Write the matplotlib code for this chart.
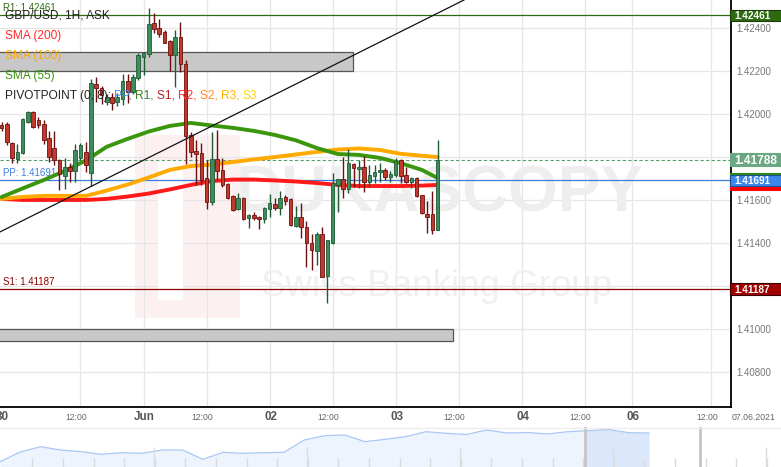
import numpy as np
import matplotlib.pyplot as plt
from matplotlib import font_manager
from matplotlib.patches import Rectangle
from matplotlib.transforms import blended_transform_factory

plt.rcParams['font.family'] = ['Liberation Sans', 'DejaVu Sans']

# GBP/USD 1H ask candles, first one is 30 May 21:00
opens = [1.41950, 1.41954, 1.41866, 1.41791, 1.41819, 1.41963, 1.42010, 1.41973, 1.41954, 1.41889,
         1.41842, 1.41786, 1.41712, 1.41754, 1.41735, 1.41796, 1.41824, 1.41726, 1.42141, 1.42122,
         1.42057, 1.42080, 1.42057, 1.42071, 1.42155, 1.42103, 1.42169, 1.42267, 1.42281, 1.42425,
         1.42402, 1.42383, 1.42341, 1.42276, 1.42360, 1.42234, 1.41903, 1.41828, 1.41819, 1.41702,
         1.41590, 1.41791, 1.41740, 1.41674, 1.41619, 1.41558, 1.41609, 1.41516, 1.41530, 1.41521,
         1.41511, 1.41558, 1.41581, 1.41563, 1.41614, 1.41605, 1.41479, 1.41521, 1.41474, 1.41399,
         1.41362, 1.41441, 1.41245, 1.41399, 1.41670, 1.41698, 1.41651, 1.41768, 1.41744, 1.41754,
         1.41684, 1.41712, 1.41730, 1.41740, 1.41707, 1.41716, 1.41786, 1.41716, 1.41684, 1.41702,
         1.41623, 1.41535, 1.41535, 1.41460]
highs = [1.41963, 1.41963, 1.41870, 1.41861, 1.41982, 1.42015, 1.42015, 1.41987, 1.41973, 1.41922,
         1.41922, 1.41791, 1.41796, 1.41772, 1.41861, 1.41866, 1.41870, 1.42164, 1.42173, 1.42131,
         1.42094, 1.42099, 1.42099, 1.42187, 1.42187, 1.42187, 1.42285, 1.42290, 1.42495, 1.42472,
         1.42444, 1.42393, 1.42346, 1.42393, 1.42430, 1.42253, 1.41917, 1.41880, 1.41866, 1.41786,
         1.41917, 1.41926, 1.41796, 1.41679, 1.41623, 1.41632, 1.41614, 1.41535, 1.41544, 1.41525,
         1.41567, 1.41628, 1.41609, 1.41642, 1.41623, 1.41609, 1.41572, 1.41586, 1.41502, 1.41441,
         1.41451, 1.41474, 1.41413, 1.41726, 1.41698, 1.41800, 1.41838, 1.41772, 1.41786, 1.41805,
         1.41763, 1.41763, 1.41772, 1.41749, 1.41735, 1.41796, 1.41791, 1.41754, 1.41707, 1.41707,
         1.41623, 1.41595, 1.41642, 1.41880]
lows = [1.41922, 1.41856, 1.41772, 1.41772, 1.41814, 1.41959, 1.41936, 1.41936, 1.41861, 1.41777,
        1.41763, 1.41646, 1.41651, 1.41684, 1.41684, 1.41786, 1.41730, 1.41665, 1.42057, 1.42047,
        1.42043, 1.42019, 1.42038, 1.42043, 1.42052, 1.42094, 1.42159, 1.42183, 1.42267, 1.42379,
        1.42360, 1.42332, 1.42201, 1.42127, 1.42197, 1.41768, 1.41800, 1.41670, 1.41670, 1.41558,
        1.41577, 1.41693, 1.41660, 1.41605, 1.41549, 1.41553, 1.41507, 1.41469, 1.41507, 1.41465,
        1.41493, 1.41521, 1.41553, 1.41530, 1.41577, 1.41479, 1.41474, 1.41423, 1.41288, 1.41273,
        1.41297, 1.41241, 1.41120, 1.41395, 1.41544, 1.41609, 1.41632, 1.41660, 1.41656, 1.41637,
        1.41660, 1.41679, 1.41684, 1.41693, 1.41684, 1.41707, 1.41679, 1.41679, 1.41656, 1.41614,
        1.41535, 1.41446, 1.41441, 1.41460]
closes = [1.41936, 1.41870, 1.41796, 1.41824, 1.41977, 1.42010, 1.41940, 1.41950, 1.41880, 1.41800,
          1.41786, 1.41721, 1.41754, 1.41735, 1.41833, 1.41856, 1.41763, 1.42145, 1.42122, 1.42089,
          1.42080, 1.42052, 1.42080, 1.42155, 1.42103, 1.42173, 1.42276, 1.42285, 1.42421, 1.42397,
          1.42374, 1.42332, 1.42276, 1.42360, 1.42234, 1.41898, 1.41824, 1.41814, 1.41693, 1.41590,
          1.41791, 1.41735, 1.41670, 1.41609, 1.41553, 1.41609, 1.41511, 1.41530, 1.41516, 1.41511,
          1.41563, 1.41586, 1.41563, 1.41609, 1.41595, 1.41483, 1.41521, 1.41474, 1.41399, 1.41367,
          1.41441, 1.41241, 1.41413, 1.41679, 1.41698, 1.41651, 1.41772, 1.41749, 1.41754, 1.41684,
          1.41716, 1.41730, 1.41740, 1.41707, 1.41721, 1.41782, 1.41712, 1.41684, 1.41702, 1.41619,
          1.41539, 1.41521, 1.41460, 1.41788]

# moving averages read every 4 bars
sma_idx = [0, 4, 8, 12, 16, 20, 24, 28, 32, 36, 40, 44, 48, 52, 56, 60, 64, 68, 72, 76, 80, 83]
sma55 = [1.41614, 1.41654, 1.41693, 1.41735, 1.41784, 1.41848, 1.41885, 1.41919, 1.41945, 1.41959, 1.41947,
         1.41936, 1.41922, 1.41903, 1.41878, 1.41842, 1.41814, 1.41810, 1.41796, 1.41771, 1.41740, 1.41702]
sma100 = [1.41605, 1.41614, 1.41619, 1.41619, 1.41619, 1.41644, 1.41672, 1.41705, 1.41740, 1.41758, 1.41765,
          1.41777, 1.41789, 1.41800, 1.41812, 1.41824, 1.41835, 1.41840, 1.41833, 1.41815, 1.41806, 1.41800]
sma200 = [1.41605, 1.41600, 1.41600, 1.41600, 1.41600, 1.41605, 1.41616, 1.41630, 1.41649, 1.41670, 1.41688,
          1.41695, 1.41695, 1.41691, 1.41686, 1.41679, 1.41670, 1.41665, 1.41665, 1.41665, 1.41667, 1.41670]

pivot_r1 = 1.42461
pivot_pp = 1.41691
pivot_s1 = 1.41187
last_price = 1.41788

zone_top = (1.42201, 1.42290, 66.9)      # low, high, end bar
zone_bottom = (1.40942, 1.40998, 85.9)
trend_a = (0, 1.41455)
trend_b = (80, 1.42434)

price_ticks = [1.408, 1.410, 1.412, 1.414, 1.416, 1.418, 1.420, 1.422, 1.424]
hidden_ticks = [1.412, 1.418]   # covered by the S1 and last price boxes
date_ticks = [15, 27, 39, 51, 63, 75, 87, 99, 111, 120, 135]
date_labels = ['12:00', 'Jun', '12:00', '02', '12:00', '03', '12:00', '04', '12:00', '06', '12:00']

# navigator (overview) line, sampled evenly
nav_level = [5.3, 15, 20.3, 17, 15.3, 12.7, 14.3, 13.7, 17, 17, 7.7, 14.7, 13.7, 14.3, 14.7, 27, 31.3,
             32, 25.3, 27.7, 30.3, 35.3, 33.7, 32.5, 37, 34, 34.5, 33, 35.3, 36.3, 37.5, 34.3, 34]

W, H = 781, 467
fig = plt.figure(figsize=(W / 100, H / 100), dpi=100)
ax = fig.add_axes([0, 60 / H, 731 / W, 407 / H])
ax.set_xlim(-0.324, 138.84)
ax.set_ylim(1.40635, 1.42532)
ppx = (1.42532 - 1.40635) / 407

for s in ['left', 'top']:
    ax.spines[s].set_visible(False)
for s in ['right', 'bottom']:
    ax.spines[s].set_color('black')
    ax.spines[s].set_linewidth(1.3)

ax.yaxis.tick_right()
ax.set_yticks(price_ticks)
ax.set_yticklabels(['' if p in hidden_ticks else f'{p:.5f}' for p in price_ticks])
ax.tick_params(axis='y', length=0, pad=4, labelsize=7, labelcolor='#777777')
ax.set_xticks(date_ticks)
ax.set_xticklabels([])
ax.tick_params(axis='x', length=0)
ax.grid(True, color='#e6e6e6', lw=0.9, zorder=0)
ax.set_axisbelow(True)

# watermark
names = {f.name for f in font_manager.fontManager.ttflist}
if 'Liberation Sans Narrow' in names:
    wm_font, wm_k = 'Liberation Sans Narrow', 1.2
else:
    wm_font, wm_k = 'Liberation Sans', 1.0
ax.add_patch(Rectangle((135 / 731, 1 - 318 / 407), 105 / 731, 183 / 407, transform=ax.transAxes,
                       facecolor='#fdf0f0', edgecolor='none', zorder=0.5))
ax.add_patch(Rectangle((158 / 731, 1 - 300 / 407), 25 / 731, 140 / 407, transform=ax.transAxes,
                       facecolor='white', edgecolor='none', zorder=0.6))
ax.text(440 / 731, 1 - 195 / 407, 'DUKASCOPY', transform=ax.transAxes, ha='center', va='center',
        fontsize=46 * wm_k, fontweight='bold', family=wm_font, color='#eeeeee', zorder=0.6)
ax.text(437 / 731, 1 - 287 / 407, 'Swiss Banking Group', transform=ax.transAxes, ha='center', va='center',
        fontsize=26.5 * wm_k, family=wm_font, color='#f0f0f0', zorder=0.6)

# zones
for lo, hi, end in [zone_top, zone_bottom]:
    ax.add_patch(Rectangle((-2, lo), end + 2, hi - lo, facecolor='#c8c8c8', edgecolor='#555555',
                           lw=0.9, zorder=1))

# pivot levels
ax.axhline(pivot_r1, color='#2d6a10', lw=0.9, zorder=2)
ax.axhline(pivot_pp, color='#3b7fdc', lw=0.9, zorder=2)
ax.axhline(pivot_s1, color='#8b0000', lw=0.9, zorder=2)
ax.axhline(last_price, color='#5a9e6f', lw=0.8, ls=(0, (3, 2)), zorder=2)
for lev, name, col in [(pivot_r1, 'R1', '#2d6a10'), (pivot_pp, 'PP', '#3b7fdc'), (pivot_s1, 'S1', '#8b0000')]:
    ax.annotate(f'{name}: {lev:.5f}', xy=(0, lev), xycoords=('axes fraction', 'data'), xytext=(3, 2),
                textcoords='offset pixels', fontsize=7, color=col, va='bottom', zorder=3)

# moving averages
ax.plot(sma_idx, sma200, color='#ff1a1a', lw=2.8, solid_capstyle='round', zorder=4)
ax.plot(sma_idx, sma100, color='#ffaa00', lw=2.8, solid_capstyle='round', zorder=4)
ax.plot(sma_idx, sma55, color='#3a960c', lw=2.8, solid_capstyle='round', zorder=4)

# candles
o = np.array(opens)
h = np.array(highs)
l = np.array(lows)
c = np.array(closes)
x = np.arange(len(o))
up = c >= o
for mask, fill, edge in [(up, '#3d8c5c', '#1f5a35'), (~up, '#c0392b', '#6b1010')]:
    ax.vlines(x[mask], l[mask], h[mask], color=edge, lw=1, zorder=5)
    body = np.maximum(np.abs(c[mask] - o[mask]), ppx)
    ax.bar(x[mask], body, bottom=np.minimum(o[mask], c[mask]), width=0.68, color=fill,
           edgecolor=edge, lw=0.6, zorder=6)

# trend line
ax.axline(trend_a, trend_b, color='#111111', lw=0.9, zorder=7)

# legend text
leg = [('GBP/USD, 1H, ASK', '#222222', 16), ('SMA (200)', '#ff2a2a', 36),
       ('SMA (100)', '#ffa500', 56), ('SMA (55)', '#3a960c', 76)]
for txt, col, yy in leg:
    ax.annotate(txt, xy=(0, 1), xycoords='axes fraction', xytext=(5, -yy), textcoords='offset pixels',
                fontsize=8.6, color=col, va='center', ha='left', zorder=10)
pieces = [('PIVOTPOINT (0, 8): ', '#222222'), ('PP, ', '#4a8ef0'), ('R1, ', '#3b7d23'),
          ('S1, ', '#b22222'), ('R2, ', '#ff3030'), ('S2, ', '#ff8a2a'), ('R3, ', '#ffb300'),
          ('S3', '#ffd400')]
prev = None
for txt, col in pieces:
    if prev is None:
        prev = ax.annotate(txt, xy=(0, 1), xycoords='axes fraction', xytext=(5, -96),
                           textcoords='offset pixels', fontsize=8.6, color=col, va='center',
                           ha='left', zorder=10)
    else:
        prev = ax.annotate(txt, xy=(1, 0), xycoords=prev, fontsize=8.6, color=col, va='bottom',
                           ha='left', zorder=10)

# date labels
for t, lab in zip(date_ticks, date_labels):
    if lab == '12:00':
        ax.annotate(lab, xy=(t, 0), xycoords=('data', 'axes fraction'), xytext=(-4, -10),
                    textcoords='offset pixels', ha='center', va='center', fontsize=6.2, color='#666666')
    else:
        ax.annotate(lab, xy=(t, 0), xycoords=('data', 'axes fraction'), xytext=(1, -10),
                    textcoords='offset pixels', ha='center', va='center', fontsize=8.4,
                    fontweight='bold', color='#555555')
ax.annotate('30', xy=(0, 0), xycoords=('axes fraction', 'axes fraction'), xytext=(2, -10),
            textcoords='offset pixels', ha='center', va='center', fontsize=8.4, fontweight='bold',
            color='#555555', annotation_clip=False)
fig.text(754 / W, (H - 417) / H, '07.06.2021', ha='center', va='center', fontsize=6.3, color='#666666')

# price boxes on the right scale
tr = blended_transform_factory(fig.transFigure, ax.transData)
boxes = [(sma55[-1], '', '#2f8a12', '#2f8a12', 11, 7),
         (sma200[-1], '', '#ff0000', '#ff0000', 11, 7),
         (pivot_pp, '1.41691', '#3d86ec', '#1d4f9a', 11, 7.2),
         (pivot_r1, '1.42461', '#2d6a10', '#1b3f0a', 11, 7.2),
         (last_price, '1.41788', '#6aa884', '#6aa884', 13, 8.6),
         (pivot_s1, '1.41187', '#a00000', '#3a0000', 12, 7.2)]
for price, txt, fc, ec, hh, fs in boxes:
    fig.add_artist(Rectangle((730 / W, price - hh / 2 * ppx), 52 / W, hh * ppx, transform=tr,
                             facecolor=fc, edgecolor=ec, lw=0.8, clip_on=False))
    if txt:
        fig.text(734 / W, price, txt, transform=tr, ha='left', va='center_baseline', fontsize=fs,
                 fontweight='bold', color='white')

# navigator
nav = fig.add_axes([0, 0, 1, 40 / H])
nav.set_xlim(0, W / 20.28)
nav.set_ylim(0, 40)
nav.axis('off')
nx_ = np.arange(len(nav_level))
nav.fill_between(nx_, nav_level, color='#eef4fd', lw=0)
win = nav.fill_between(nx_, nav_level, color='#dbe7fb', lw=0)
win.set_clip_path(Rectangle((585 / 20.28, 0), (700 - 585) / 20.28, 40, transform=nav.transData))
nav.plot(nx_, nav_level, color='#a9c7f5', lw=0.9)
nav.vlines(np.arange(32.3, W, 30.6) / 20.28, 0, 9, color='#dcdcdc', lw=1)
nav.vlines(np.arange(154, W, 153) / 20.28, 0, 20, color='#dcdcdc', lw=1)
nav.axvline(585 / 20.28, color='#c4c4c4', lw=2)
nav.axvline(700 / 20.28, color='#c4c4c4', lw=2)
nav.axhline(39.5, color='#ececec', lw=1)

fig.savefig('out.png', dpi=100)
